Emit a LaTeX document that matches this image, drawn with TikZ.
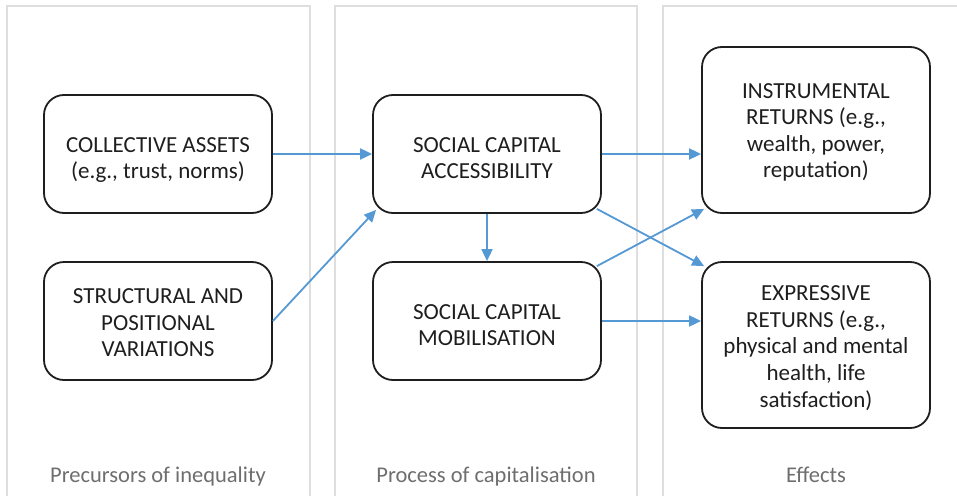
\documentclass[tikz,border=0pt]{standalone}
\usepackage{fontspec}
\setmainfont{Carlito}
\usetikzlibrary{arrows.meta,calc}
\definecolor{panelgray}{RGB}{222,222,222}
\definecolor{captiongray}{RGB}{110,110,110}
\definecolor{linkblue}{RGB}{84,152,212}
\definecolor{boxline}{RGB}{30,30,30}
% centred block of lines, drawn lowered by #1 while keeping its size
\newcommand\stagetext[2]{\raisebox{#1}[\height][\depth]{\begin{tabular}{@{}c@{}}#2\end{tabular}}}
\begin{document}
\begin{tikzpicture}[x=1pt,y=-1pt,
  panel/.style={draw=panelgray,line width=1.8pt},
  stage/.style={draw=boxline,line width=1.8pt,rounded corners=20pt,
    minimum width=228pt,minimum height=118pt,inner sep=0pt,
    text=boxline,font=\fontsize{23}{26.6}\selectfont},
  tallstage/.style={stage,minimum height=166pt},
  caption/.style={anchor=base,text=captiongray,font=\fontsize{22.5}{26}\selectfont},
  link/.style={draw=linkblue,line width=1.8pt,
    -{Triangle[length=12pt,width=11pt,fill=linkblue]}}]
\useasboundingbox (0,0) rectangle (957,495);
\clip (0,0) rectangle (957,495);

% three column panels, open at the bottom
\draw[panel] (7,510) -- (7,6) -- (310,6) -- (310,510);
\draw[panel] (335,510) -- (335,6) -- (637,6) -- (637,510);
\draw[panel] (663,510) -- (663,6) -- (970,6);

% column captions
\node[caption] (capl) at (158,482) {Precursors of inequality};
\node[caption] (capm) at (486,482) {Process of capitalisation};
\node[caption] (capr) at (816,482) {Effects};

% stages
\node[stage] (coll) at (158,154) {\stagetext{-6pt}{COLLECTIVE ASSETS\\(e.g., trust, norms)}};
\node[stage] (struct) at (158,321) {\stagetext{-3.7pt}{STRUCTURAL AND\\POSITIONAL\\VARIATIONS}};
\node[stage] (acc) at (487,154) {\stagetext{-6pt}{SOCIAL CAPITAL\\ACCESSIBILITY}};
\node[stage] (mob) at (487,321) {\stagetext{-6pt}{SOCIAL CAPITAL\\MOBILISATION}};
\node[tallstage] (instr) at (816,130) {\stagetext{-2.7pt}{INSTRUMENTAL\\RETURNS (e.g.,\\wealth, power,\\reputation)}};
\node[tallstage] (expr) at (816,345) {\stagetext{-3.5pt}{EXPRESSIVE\\RETURNS (e.g.,\\physical and mental\\health, life\\satisfaction)}};

% links
\draw[link] (coll.east) -- (acc.west);
\draw[link] (struct.east) -- ($(acc.south west)+(4,-4)$);
\draw[link] (acc.south) -- (mob.north);
\draw[link] (acc.east) -- (acc.east -| instr.west);
\draw[link] ($(acc.south east)+(-5,-5)$) -- ($(expr.north west)+(3,5)$);
\draw[link] ($(mob.north east)+(-5,5)$) -- ($(instr.south west)+(3,-5)$);
\draw[link] (mob.east) -- (mob.east -| expr.west);
\end{tikzpicture}
\end{document}
